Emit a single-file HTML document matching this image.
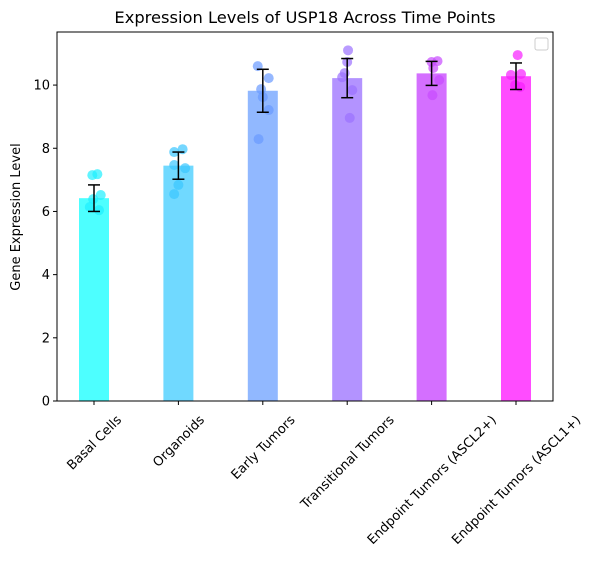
<!DOCTYPE html>
<html><head><meta charset="utf-8"><style>
body{margin:0;background:#fff;}
svg{font-family:"DejaVu Sans","Liberation Sans",sans-serif;}
</style></head><body>
<svg id="chart" width="596" height="564">
<text x="305" y="23" font-size="16.3" text-anchor="middle">Expression Levels of USP18 Across Time Points</text>
<text transform="translate(20,217) rotate(-90)" font-size="13" text-anchor="middle">Gene Expression Level</text>
<g id="plot"></g>
<rect x="57" y="32" width="496" height="369" fill="none" stroke="#000" stroke-width="1"/>
<rect x="535" y="38" width="13" height="12" rx="2" fill="#fff" stroke="#ccc"/>
</svg>
<script>
const categories=["Basal Cells","Organoids","Early Tumors","Transitional Tumors","Endpoint Tumors (ASCL2+)","Endpoint Tumors (ASCL1+)"];
const means=[6.42,7.45,9.82,10.22,10.37,10.28];
const sds=[0.42,0.43,0.68,0.62,0.38,0.42];
const points=[[7.15,7.18,6.52,6.39,6.14,6.04],[7.88,7.97,7.47,7.37,6.84,6.55],[10.6,10.22,9.87,9.62,9.21,8.29],[11.1,10.73,10.38,10.25,9.84,8.96],[10.76,10.73,10.54,10.16,9.68],[10.95,10.32,10.35,9.94,10.0]];
const jitter=[[-0.02,0.04,0.08,-0.01,-0.05,0.06],[-0.05,0.05,-0.05,0.08,0.0,-0.05],[-0.06,0.07,-0.02,0.0,0.07,-0.05],[0.01,0.0,-0.03,-0.06,0.06,0.03],[0.07,0.0,0.02,0.09,0.01],[0.02,-0.06,0.06,0.05,-0.01]];
const barColors=["#4dffff","#70d9ff","#91b8ff","#b393ff","#d46fff","#ff4cff"];
const dotColors=["#1ef0ff","#3bc6ff","#6a9aff","#9b70ff","#c84aff","#f81cff"];
const yTicks=[0,2,4,6,8,10];
const L=57,R=553,T=32,B=401,yMax=11.68;
const ns="http://www.w3.org/2000/svg";
const g=document.getElementById('plot');
function xs(i){return L+37+i*84.4;}
function ys(v){return B-(v/yMax)*(B-T);}
function mk(t,a){const e=document.createElementNS(ns,t);for(const k in a)e.setAttribute(k,a[k]);g.appendChild(e);return e;}
yTicks.forEach(v=>{
 const tk=mk('line',{x1:L-4,x2:L,y1:ys(v),y2:ys(v),stroke:'#000'});
 
 
 const t=mk('text',{x:L-7,y:ys(v)+4.5,'font-size':13,'text-anchor':'end'});t.textContent=v;
 
 
});
categories.forEach((c,i)=>{
 const x=xs(i);
 const b=mk('rect',{x:x-15,y:ys(means[i]),width:30,height:B-ys(means[i]),fill:barColors[i]});
 
 
 points[i].forEach((p,j)=>{
  const d=mk('circle',{cx:x+jitter[i][j]*84.4,cy:ys(p),r:5,fill:dotColors[i],'fill-opacity':0.7});
  
  
 });
 const hi=ys(means[i]+sds[i]),lo=ys(means[i]-sds[i]);
 const eg=[mk('line',{x1:x,x2:x,y1:hi,y2:lo,stroke:'#000','stroke-width':1.5}),
 mk('line',{x1:x-6,x2:x+6,y1:hi,y2:hi,stroke:'#000','stroke-width':1.5}),
 mk('line',{x1:x-6,x2:x+6,y1:lo,y2:lo,stroke:'#000','stroke-width':1.5})];
 eg.forEach(e=>{
 });
 const tk=mk('line',{x1:x,x2:x,y1:B,y2:B+4,stroke:'#000'});
 
 
 const t=mk('text',{'font-size':13,'text-anchor':'end'});t.textContent=c;
 
 
 const w=t.getComputedTextLength(),h=12.5;
 const bw=(w+h)*0.7071;
 const ex=x+bw/2-h*0.7071+1,ey=B+13;
 t.setAttribute('transform','translate('+ex+','+ey+') rotate(-45)');
 t.setAttribute('y',h*0.75);
});
</script>
</body></html>
